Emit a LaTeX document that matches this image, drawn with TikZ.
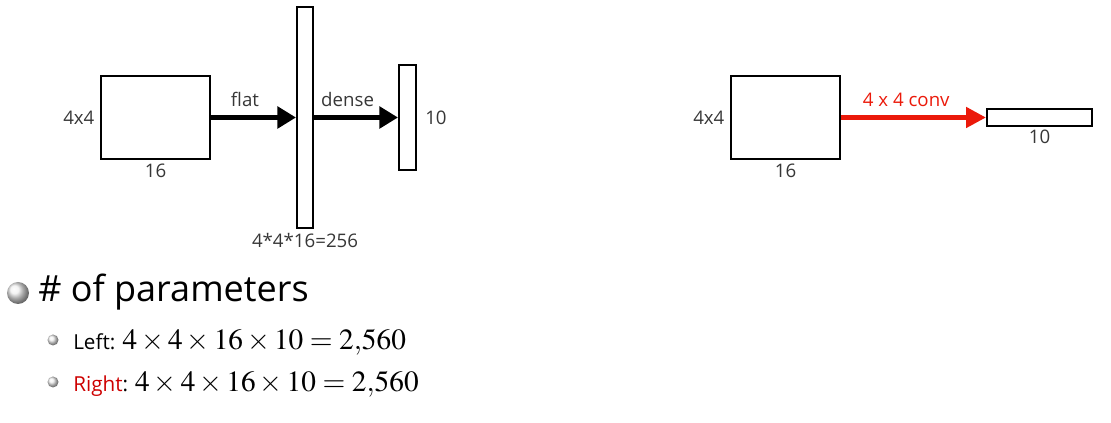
\documentclass[tikz,border=0pt]{standalone}
\usepackage{mathptmx}
\usepackage{fontspec}
\setmainfont{Open Sans}
\usetikzlibrary{arrows.meta,positioning}
\definecolor{convred}{RGB}{235,25,10}
\definecolor{textred}{RGB}{205,0,0}
\definecolor{labelgray}{RGB}{55,55,55}
\newcommand\paramcount{\fontsize{22}{24}\selectfont$4\times4\times16\times10=2{,}560$}

\begin{document}
\begin{tikzpicture}[x=0.75pt,y=-0.75pt,
  layer/.style={draw,line width=1.5pt,inner sep=0pt},
  lbl/.style={font=\fontsize{14}{16}\selectfont,text=labelgray,inner sep=1pt},
  flow/.style={line width=3.6pt,-{Triangle[length=14pt,width=16pt]}},
  ball/.style={circle,inner sep=0pt,shading=ball,ball color=gray!12},
]
\useasboundingbox (0,0) rectangle (1111,423);

% left: flatten, then dense
\node[layer,minimum width=109*0.75pt,minimum height=83*0.75pt] (map1) at (155.5,117.5) {};
\node[layer,minimum width=16*0.75pt,minimum height=221*0.75pt] (flat1) at (305,117.5) {};
\node[layer,minimum width=17*0.75pt,minimum height=105*0.75pt] (out1) at (407.5,117.5) {};
\node[lbl,left=3pt of map1] (map1side) {4x4};
\node[lbl,below=2pt of map1] (map1depth) {16};
\node[lbl,below=2pt of flat1] (flat1size) {4*4*16=256};
\node[lbl,right=5pt of out1] (out1size) {10};
\draw[flow] (map1) -- node[lbl,above=5pt,pos=0.4] (flatlbl) {flat} (flat1);
\draw[flow] (flat1) -- node[lbl,above=5pt,pos=0.4] (denselbl) {dense} (out1);

% right: one 4x4 convolution
\node[layer,minimum width=109*0.75pt,minimum height=83*0.75pt] (map2) at (785.5,117.5) {};
\node[layer,minimum width=105*0.75pt,minimum height=17*0.75pt] (out2) at (1039.5,117.5) {};
\node[lbl,left=3pt of map2] (map2side) {4x4};
\node[lbl,below=2pt of map2] (map2depth) {16};
\node[lbl,below=1pt of out2] (out2size) {10};
\draw[flow,convred,-{Triangle[length=15pt,width=15pt]}] (map2) -- node[lbl,text=convred,above=5pt,pos=0.45] (convlbl) {4 x 4 conv} (out2);

% parameter count
\node[ball,minimum size=22*0.75pt] (dot0) at (18,293) {};
\node[anchor=west,inner sep=0pt,font=\fontsize{27}{30}\selectfont] (title) at (38,292) {\# of parameters};
\node[ball,minimum size=11*0.75pt] (dot1) at (53,340) {};
\node[anchor=west,inner sep=0pt,font=\fontsize{15.5}{18}\selectfont] (left) at (73,342)
  {Left: \paramcount};
\node[ball,minimum size=11*0.75pt] (dot2) at (53,382) {};
\node[anchor=west,inner sep=0pt,font=\fontsize{15.5}{18}\selectfont] (right) at (73,384)
  {\textcolor{textred}{Right}: \paramcount};
\end{tikzpicture}
\end{document}
